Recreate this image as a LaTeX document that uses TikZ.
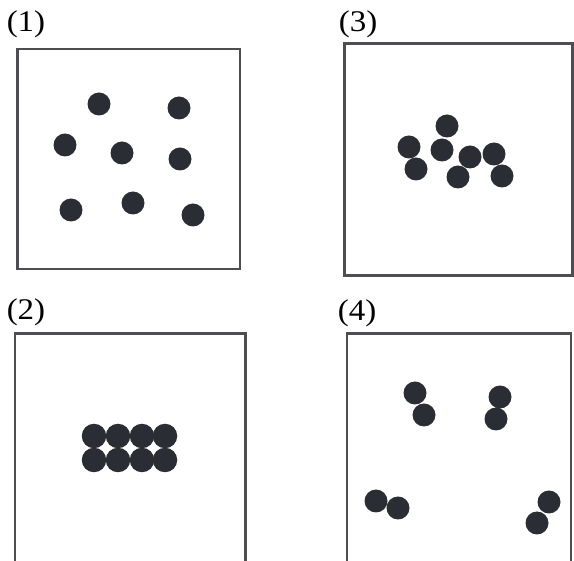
\documentclass[tikz,border=0pt]{standalone}
\usepackage{fontspec}
\setmainfont{Liberation Serif}
\definecolor{dotc}{HTML}{2A2D33}
\definecolor{boxc}{HTML}{4E4E52}
\begin{document}
\begin{tikzpicture}[x=1pt,y=-1pt,
  dot/.style={circle,fill=dotc,draw=none,minimum size=23pt,inner sep=0pt},
  bigdot/.style={dot,minimum size=24.5pt},
  panel/.style={draw=boxc,line width=2.5pt},
  lbl/.style={inner sep=0pt,font=\fontsize{30}{30}\selectfont,xscale=1.1,transform shape}]
\useasboundingbox (0,0) rectangle (574,561);
% labels
\node[lbl] (l1) at (26,24) {(1)};
\node[lbl] (l3) at (358,24) {(3)};
\node[lbl] (l2) at (26,312) {(2)};
\node[lbl] (l4) at (357,313) {(4)};
% boxes
\draw[panel] (17.3,49) rectangle (240,269);
\draw[panel] (344.3,43.3) rectangle (572.5,275.3);
\draw[panel] (15,561) -- (15,333.3) -- (245.7,333.3) -- (245.7,561);
\draw[panel] (347,561) -- (347,333.3) -- (571,333.3) -- (571,561);
% panel 1
\node[dot] (a1) at (99,104) {};
\node[dot] (a2) at (179,108) {};
\node[dot] (a3) at (65,145) {};
\node[dot] (a4) at (122,153) {};
\node[dot] (a5) at (180,159) {};
\node[dot] (a6) at (71,210) {};
\node[dot] (a7) at (133,203) {};
\node[dot] (a8) at (193,215) {};
% panel 3
\node[dot] (c1) at (409,147) {};
\node[dot] (c2) at (416,169) {};
\node[dot] (c3) at (447,126) {};
\node[dot] (c4) at (442,150) {};
\node[dot] (c5) at (470,157) {};
\node[dot] (c6) at (458,177) {};
\node[dot] (c7) at (494,154) {};
\node[dot] (c8) at (502,176) {};
% panel 2
\node[bigdot] (b1) at (94,436) {};
\node[bigdot] (b2) at (118,436) {};
\node[bigdot] (b3) at (142,436) {};
\node[bigdot] (b4) at (165,436) {};
\node[bigdot] (b5) at (94,460) {};
\node[bigdot] (b6) at (118,460) {};
\node[bigdot] (b7) at (142,460) {};
\node[bigdot] (b8) at (165,460) {};
% panel 4
\node[dot] (d1) at (415,393) {};
\node[dot] (d2) at (424,415) {};
\node[dot] (d3) at (500,397) {};
\node[dot] (d4) at (496,419) {};
\node[dot] (d5) at (376,501) {};
\node[dot] (d6) at (398,508) {};
\node[dot] (d7) at (549,502) {};
\node[dot] (d8) at (537,523) {};
\end{tikzpicture}
\end{document}
